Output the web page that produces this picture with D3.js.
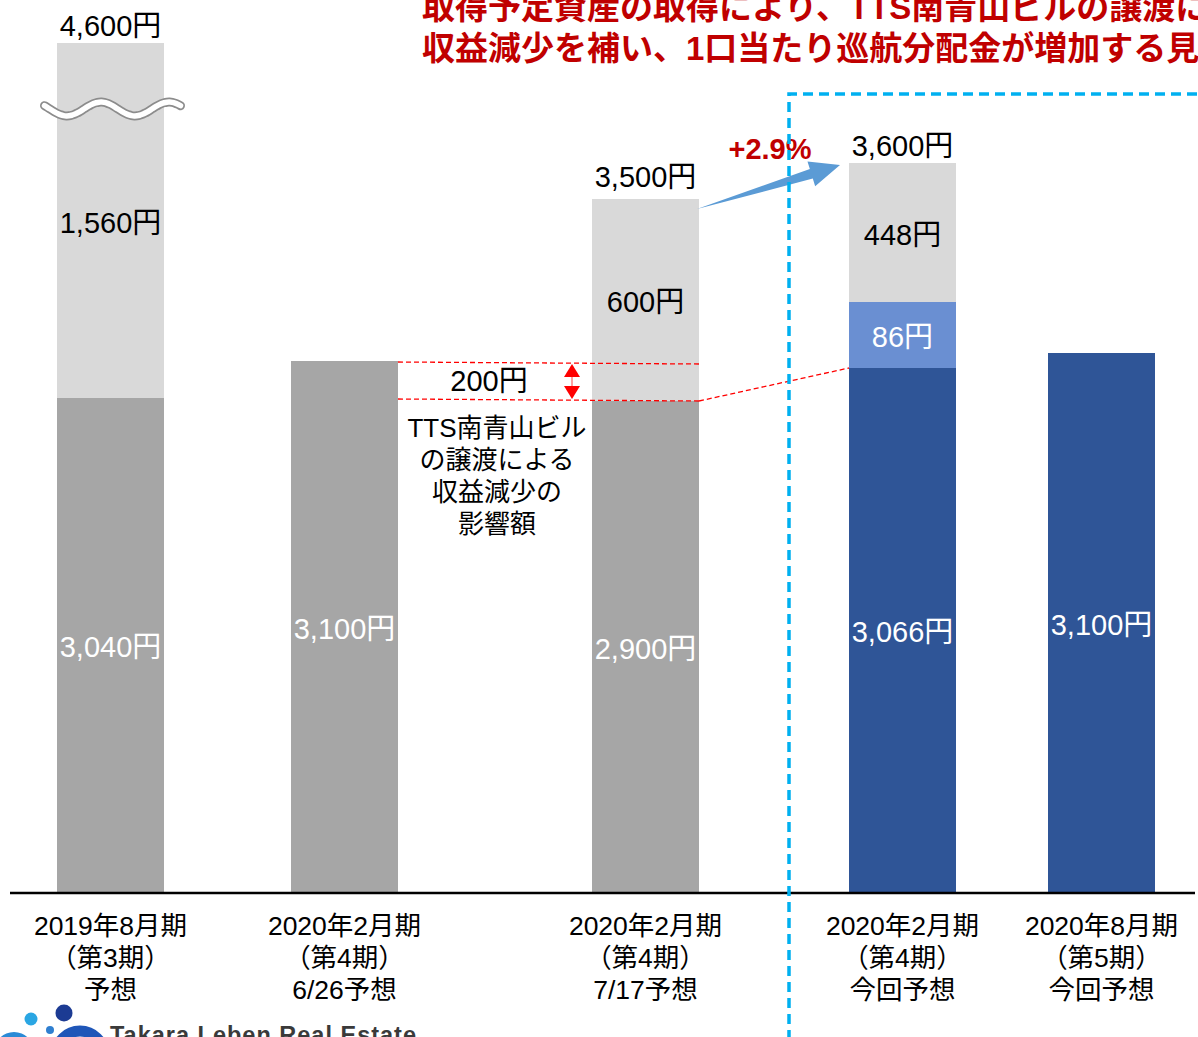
<!DOCTYPE html>
<html>
<head>
<meta charset="utf-8">
<script src="https://cdn.jsdelivr.net/npm/d3@7"></script>
<style>
  html, body { margin: 0; padding: 0; background: #fff; overflow: hidden; }
  svg { display: block; }
  text { font-family: "Liberation Sans", Arial, "Noto Sans CJK JP", sans-serif; }
</style>
</head>
<body>
<svg id="chart" width="1198" height="1037"></svg>
<script>
// ---------------- DATA ----------------
const categories = [
  ["2019年8月期", "（第3期）", "予想"],
  ["2020年2月期", "（第4期）", "6/26予想"],
  ["2020年2月期", "（第4期）", "7/17予想"],
  ["2020年2月期", "（第4期）", "今回予想"],
  ["2020年8月期", "（第5期）", "今回予想"]
];
const baseValues  = [3040, 3100, 2900, 3066, 3100];   // bottom segment
const addValues   = [0, 0, 0, 86, 0];                  // acquisition effect segment
const upperValues = [1560, 0, 600, 448, 0];            // top (light) segment
const totalLabels = ["4,600円", null, "3,500円", "3,600円", null];
const isCurrent   = [false, false, false, true, true];
const diffValue   = 200;
const diffLabel   = "200円";
const changeLabel = "+2.9%";
const titleLines  = [
  "取得予定資産の取得により、TTS南青山ビルの譲渡に",
  "収益減少を補い、1口当たり巡航分配金が増加する見"
];
const noteLines = ["TTS南青山ビル", "の譲渡による", "収益減少の", "影響額"];

// ---------------- LAYOUT ----------------
const svg = d3.select("#chart");
const baseY = 892;
const barW = 107;
const fmt = d => d3.format(",")(d) + "円";

// x positions (uneven spacing as in the slide)
const x = d3.scaleOrdinal().domain(d3.range(categories.length))
  .range([110.5, 344.5, 645.5, 902.5, 1101.5]);

// The slide is not drawn to scale; two piecewise scales reproduce it
const yPrev = d3.scaleLinear()
  .domain([0, 2900, 3040, 3100, 3500, 4600])
  .range([baseY, 401, 398, 361, 199, 43]);
const yCur = d3.scaleLinear()
  .domain([0, 3066, 3100, 3152, 3600])
  .range([baseY, 368, 353, 302, 163]);
const yOf = i => isCurrent[i] ? yCur : yPrev;

const colLight = "#d9d9d9", colGrey = "#a6a6a6", colNavy = "#2f5597", colMid = "#6a8fd2";

// ---------------- BARS ----------------
const segs = [];
categories.forEach((c, i) => {
  const y = yOf(i);
  let acc = 0;
  const parts = [
    {v: baseValues[i], fill: isCurrent[i] ? colNavy : colGrey, txt: "#fff"},
    {v: addValues[i], fill: colMid, txt: "#fff"},
    {v: upperValues[i], fill: colLight, txt: "#000"}
  ];
  parts.forEach(p => {
    if (p.v > 0) {
      segs.push({i, y0: y(acc), y1: y(acc + p.v), v: p.v, fill: p.fill, txt: p.txt});
      acc += p.v;
    }
  });
});

svg.append("g").selectAll("rect").data(segs).join("rect")
  .attr("x", d => x(d.i) - barW / 2)
  .attr("width", barW)
  .attr("y", d => d.y1)
  .attr("height", d => d.y0 - d.y1)
  .attr("fill", d => d.fill);

svg.append("g").selectAll("text").data(segs).join("text")
  .attr("x", d => x(d.i))
  .attr("y", d => (d.y0 + d.y1) / 2 + 2)
  .attr("dy", "0.36em")
  .attr("text-anchor", "middle")
  .attr("font-size", 29)
  .attr("fill", d => d.txt)
  .text(d => fmt(d.v));

// totals
categories.forEach((c, i) => {
  if (!totalLabels[i]) return;
  const tot = baseValues[i] + addValues[i] + upperValues[i];
  svg.append("text")
    .attr("x", x(i)).attr("y", yOf(i)(tot) - (i === 2 ? 22 : 17))
    .attr("dy", "0.36em")
    .attr("text-anchor", "middle")
    .attr("font-size", 29)
    .attr("fill", "#000")
    .text(totalLabels[i]);
});

// wavy break on first bar
{
  const wy = 109, xs = x(0) - 66, xe = x(0) + 70;
  const pts = d3.range(0, 1.0001, 0.02).map(t => [xs + t * (xe - xs), wy + 7 * Math.sin(t * Math.PI * 4 - 0.5)]);
  const line = d3.line().curve(d3.curveBasis);
  svg.append("path").attr("d", line(pts)).attr("fill", "none")
    .attr("stroke", "#8c8c8c").attr("stroke-width", 9).attr("stroke-linecap", "round");
  svg.append("path").attr("d", line(pts)).attr("fill", "none")
    .attr("stroke", "#fff").attr("stroke-width", 5.5).attr("stroke-linecap", "round");
}

// ---------------- AXIS ----------------
svg.append("line").attr("x1", 10).attr("x2", 1195).attr("y1", baseY + 1).attr("y2", baseY + 1)
  .attr("stroke", "#000").attr("stroke-width", 2.5);

categories.forEach((lines, i) => {
  const t = svg.append("text").attr("text-anchor", "middle").attr("font-size", 26.5).attr("fill", "#000");
  lines.forEach((l, k) => {
    t.append("tspan").attr("x", x(i)).attr("y", 935 + k * 32).text(l);
  });
});

// ---------------- ANNOTATIONS ----------------
const r2 = x(1) + barW / 2, r3 = x(2) + barW / 2, l4 = x(3) - barW / 2;
const yTop = yPrev(baseValues[2] + diffValue), yBot = yPrev(baseValues[2]);
const dashed = {stroke: "#ff0000", "stroke-width": 1.3, "stroke-dasharray": "5,3"};
function applyAttrs(sel, o) { Object.entries(o).forEach(([k, v]) => sel.attr(k, v)); return sel; }
applyAttrs(svg.append("line").attr("x1", r2).attr("x2", r3).attr("y1", yTop + 1).attr("y2", yTop + 3), dashed);
applyAttrs(svg.append("line").attr("x1", r2).attr("x2", r3).attr("y1", yBot - 2).attr("y2", yBot), dashed);
applyAttrs(svg.append("line").attr("x1", r3).attr("x2", l4).attr("y1", yBot).attr("y2", yCur(baseValues[3])), dashed);

// red double arrow
{
  const ax = 572, t = yTop + 3, b = yBot - 2;
  svg.append("line").attr("x1", ax).attr("x2", ax).attr("y1", t + 10).attr("y2", b - 10)
    .attr("stroke", "#ff8080").attr("stroke-width", 1.5);
  svg.append("path").attr("d", `M${ax},${t} L${ax + 8},${t + 13} L${ax - 8},${t + 13} Z`).attr("fill", "#ff0000");
  svg.append("path").attr("d", `M${ax},${b} L${ax + 8},${b - 13} L${ax - 8},${b - 13} Z`).attr("fill", "#ff0000");
}
svg.append("text").attr("x", 489).attr("y", (yTop + yBot) / 2).attr("dy", "0.36em")
  .attr("text-anchor", "middle").attr("font-size", 29).text(diffLabel);

// note text
{
  const t = svg.append("text").attr("text-anchor", "middle").attr("font-size", 26).attr("fill", "#000");
  noteLines.forEach((l, k) => t.append("tspan").attr("x", 497).attr("y", 437 + k * 32).text(l));
}

// blue block arrow from bar 3 to bar 4
{
  const tail = [r3 - 2, yPrev(3500) + 10];
  const tip = [l4 - 9, yCur(3600) + 2];
  const dx = tip[0] - tail[0], dy = tip[1] - tail[1], L = Math.hypot(dx, dy);
  const ux = dx / L, uy = dy / L, nx = -uy, ny = ux;
  const headLen = 30, headW = 13, shaftW = 5;
  const hb = [tip[0] - ux * headLen, tip[1] - uy * headLen];
  const p = [
    tail,
    [hb[0] + nx * shaftW, hb[1] + ny * shaftW],
    [hb[0] + nx * headW, hb[1] + ny * headW],
    tip,
    [hb[0] - nx * headW, hb[1] - ny * headW],
    [hb[0] - nx * shaftW, hb[1] - ny * shaftW]
  ];
  svg.append("path").attr("d", "M" + p.map(q => q.join(",")).join("L") + "Z").attr("fill", "#5b9bd5");
}
svg.append("text").attr("x", 770).attr("y", 149).attr("dy", "0.36em").attr("text-anchor", "middle")
  .attr("font-size", 29).attr("font-weight", "bold").attr("fill", "#c00000").text(changeLabel);

// cyan dashed frame
svg.append("path").attr("d", "M789,1040 L789,94 L1205,94")
  .attr("fill", "none").attr("stroke", "#00b0f0").attr("stroke-width", 3.5).attr("stroke-dasharray", "10,6");

// title
titleLines.forEach((l, k) => {
  svg.append("text").attr("x", 422).attr("y", 19 + k * 41).attr("font-size", 33).attr("font-weight", "bold")
    .attr("fill", "#c00000").style("font-family", "'Liberation Sans', 'Noto Sans CJK JP', sans-serif").text(l);
});

// logo
{
  const g = svg.append("g");
  g.append("circle").attr("cx", 14).attr("cy", 1052).attr("r", 20).attr("fill", "#2a8ad6");
  g.append("circle").attr("cx", 31).attr("cy", 1019).attr("r", 6.5).attr("fill", "#2aa6e3");
  g.append("circle").attr("cx", 50).attr("cy", 1030).attr("r", 4).attr("fill", "#2f7fd0");
  g.append("circle").attr("cx", 64).attr("cy", 1013).attr("r", 8.5).attr("fill", "#1c3b93");
  g.append("circle").attr("cx", 80).attr("cy", 1055).attr("r", 24).attr("fill", "none")
    .attr("stroke", "#1f56b8").attr("stroke-width", 11);
  g.append("text").attr("x", 110).attr("y", 1043).attr("font-size", 23.5).attr("font-weight", "bold")
    .attr("fill", "#3a3a3a").attr("letter-spacing", 1).text("Takara Leben Real Estate");
}
</script>
</body>
</html>
